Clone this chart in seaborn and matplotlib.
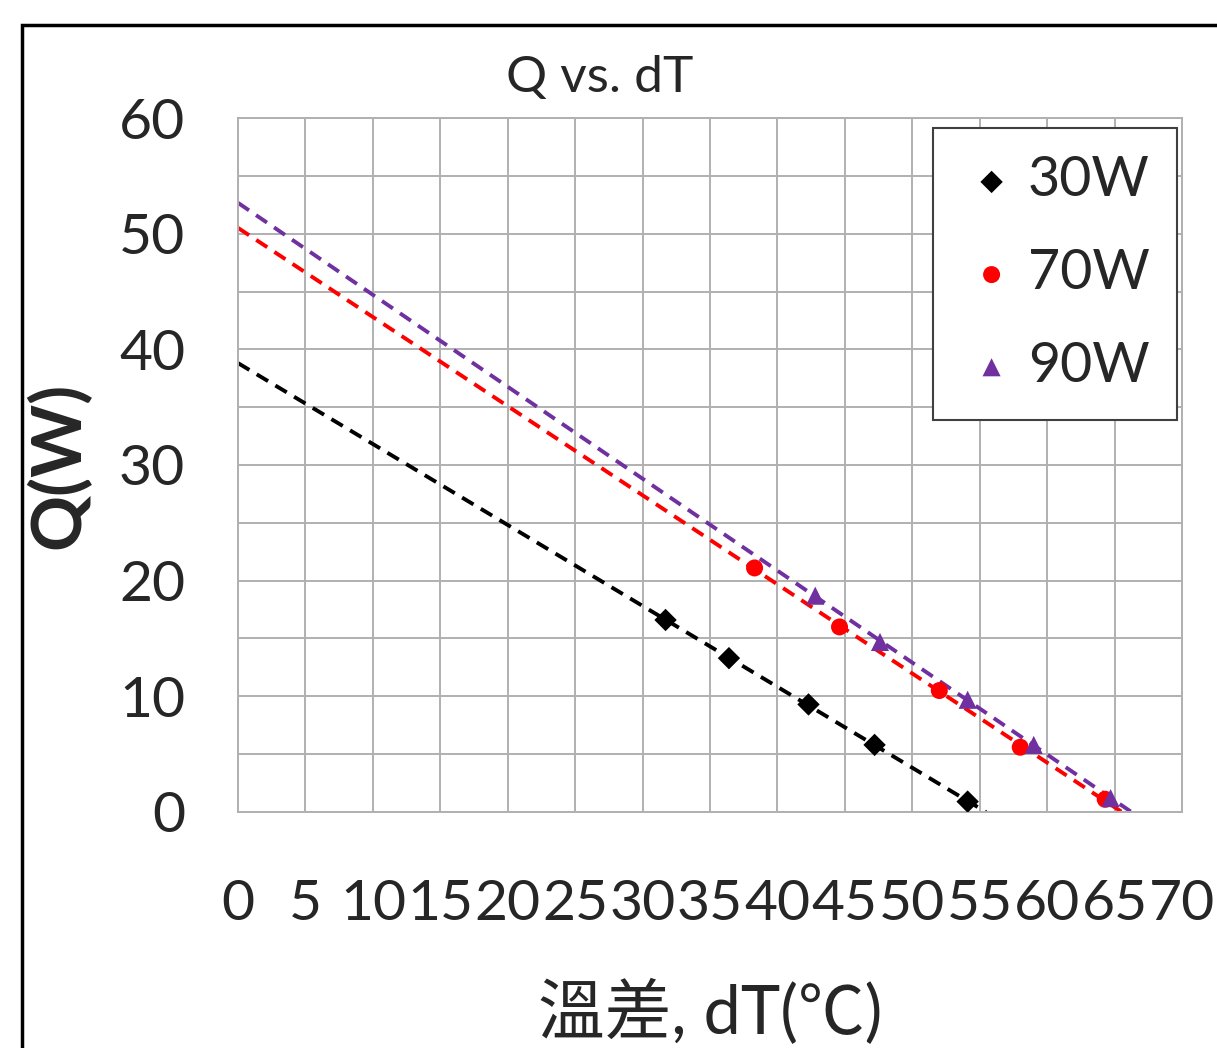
import numpy as np
import pandas as pd
import matplotlib
matplotlib.use("Agg")
import matplotlib.pyplot as plt
import seaborn as sns
from matplotlib.patches import Rectangle

# data
dT_30w = [31.7, 36.4, 42.3, 47.2, 54.1]
Q_30w = [16.6, 13.3, 9.3, 5.8, 0.9]
dT_70w = [38.3, 44.6, 52.0, 58.0, 64.3]
Q_70w = [21.1, 16.0, 10.5, 5.6, 1.1]
dT_90w = [42.8, 47.6, 54.1, 59.0, 64.7]
Q_90w = [18.7, 14.7, 9.7, 5.8, 1.2]
series_names = ["30W", "70W", "90W"]
x_ticks = list(range(0, 75, 5))
y_ticks = list(range(0, 70, 10))

sns.set_style("white")
plt.rcParams['font.family'] = ['Lato', 'Noto Sans CJK TC', 'DejaVu Sans']

df = pd.concat([
    pd.DataFrame({"dT": dT_30w, "Q": Q_30w, "series": "30W"}),
    pd.DataFrame({"dT": dT_70w, "Q": Q_70w, "series": "70W"}),
    pd.DataFrame({"dT": dT_90w, "Q": Q_90w, "series": "90W"}),
], ignore_index=True)

colors = {"30W": "black", "70W": "#ff0000", "90W": "#7030a0"}
markers = {"30W": "D", "70W": "o", "90W": "^"}
sizes = {"30W": 130, "70W": 150, "90W": 170}

fig = plt.figure(figsize=(12.17, 10.48), dpi=100)
ax = fig.add_axes([0.1956, 0.2252, 0.7757, 0.6622])

# linear trend lines, extended back to dT = 0
for name in series_names:
    sub = df[df.series == name]
    k, b = np.polyfit(sub.dT, sub.Q, 1)
    x_end = -b / k
    ax.plot([0, x_end], [b, 0], ls=(0, (3.4, 2.2)), lw=2.8, color=colors[name], zorder=2)

for name in series_names:
    sub = df[df.series == name]
    sns.scatterplot(data=sub, x="dT", y="Q", ax=ax, color=colors[name],
                    marker=markers[name], s=sizes[name], edgecolor="none",
                    label=name, zorder=3)

ax.set_xlim(0, 70)
ax.set_ylim(0, 60)
ax.set_xticks(x_ticks)
ax.set_yticks(y_ticks)
ax.set_yticks(list(range(0, 65, 5)), minor=True)
ax.grid(True, which="both", color="#b0b0b0", lw=1.4)
ax.set_axisbelow(True)
for sp in ax.spines.values():
    sp.set_color("#b0b0b0")
    sp.set_linewidth(1.4)
ax.tick_params(axis="both", which="both", length=0)
ax.tick_params(axis="x", labelsize=41, pad=48)
ax.tick_params(axis="y", labelsize=41, pad=38)

fig.text(600 / 1217, 1 - 78 / 1048, "Q vs. dT", fontsize=37, ha="center", va="center")
ax.set_xlabel("溫差, dT(℃)", fontsize=48, labelpad=36)
ax.set_ylabel("Q(W)", fontsize=50, fontweight="bold", labelpad=20)

leg = ax.legend(loc="upper right", fontsize=40, frameon=True, fancybox=False,
                edgecolor="#404040", framealpha=1, handletextpad=0.1,
                handlelength=1.1, borderpad=0.5, labelspacing=0.75,
                bbox_to_anchor=(0.995, 0.986), borderaxespad=0)
leg.get_frame().set_linewidth(1.5)

# outer chart border
fig.patches.append(Rectangle((22 / 1217, -0.1), 1.1, 1 - 25 / 1048 + 0.1,
                             transform=fig.transFigure, fill=False,
                             edgecolor="black", lw=2.5))

fig.savefig("out.png", dpi=100)
